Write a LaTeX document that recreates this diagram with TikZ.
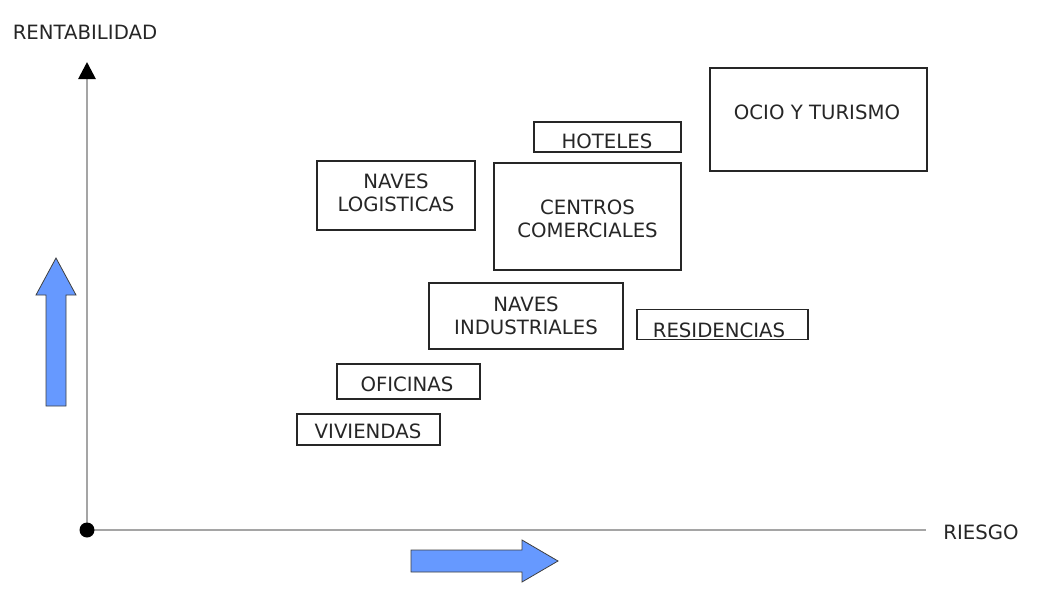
\documentclass[tikz,border=0pt]{standalone}
\usepackage{fontspec}
\setmainfont{DejaVu Sans}
\usetikzlibrary{arrows.meta}
\definecolor{axisgray}{RGB}{165,165,165}
\definecolor{arrowblue}{RGB}{102,153,255}
\definecolor{edgegray}{RGB}{64,64,64}
\begin{document}
\begin{tikzpicture}[x=1pt,y=-1pt,
  box/.style={draw=black!85,line width=1.3pt,inner sep=0pt,outer sep=0pt},
  lbl/.style={font=\fontsize{19.7}{23}\selectfont,text=black!85,inner sep=0pt,align=center,text depth=0pt},
  one/.style={lbl,text height=14.2pt},
  two/.style={lbl,text height=37.2pt},
  axis/.style={draw=axisgray,line width=2.8pt},
  bigarrow/.style={fill=arrowblue,draw=edgegray,line width=0.8pt,line join=miter}]
\useasboundingbox (0,0) rectangle (1037,597);
\fill[white] (0,0) rectangle (1037,597);

% axes
\coordinate (o) at (87,530);
\coordinate (ytop) at (87,62);
\coordinate (xend) at (926,530);
\draw[axis,-{Triangle[width=17pt,length=17pt,color=black]}] (o) -- (ytop);
\draw[axis] (o) -- (xend);
\node[circle,fill=black,inner sep=0pt,minimum size=15pt] (origin) at (o) {};
\node[one] (rent) at (85,32) {RENTABILIDAD};
\node[one] (riesgo) at (981,532) {RIESGO};

% block arrows
\draw[bigarrow] (46,406) -- (46,295) -- (36,295) -- (56,258) -- (76,295) -- (66,295) -- (66,406) -- cycle;
\draw[bigarrow] (411,550) -- (522,550) -- (522,540) -- (558,561) -- (522,582) -- (522,572) -- (411,572) -- cycle;

% boxes
\node[box,minimum width=217pt,minimum height=103pt] (ocio) at (818.5,119.5) {};
\node[one] (ociot) at (817,112) {OCIO Y TURISMO};

\node[box,minimum width=147pt,minimum height=30pt] (hot) at (607.5,137) {};
\node[one] (hott) at (607,141) {HOTELES};

\node[box,minimum width=158pt,minimum height=69pt] (nlog) at (396,195.5) {};
\node[two] (nlogt) at (396,192.5) {NAVES\\LOGISTICAS};

\node[box,minimum width=187pt,minimum height=107pt] (cc) at (587.5,216.5) {};
\node[two] (cct) at (587.5,218.5) {CENTROS\\COMERCIALES};

\node[box,minimum width=194pt,minimum height=66pt] (nind) at (526,316) {};
\node[two] (nindt) at (526,315.5) {NAVES\\INDUSTRIALES};

\node[box,minimum width=171pt,minimum height=30pt] (res) at (722.5,324.5) {};
\node[one] (rest) at (719,330) {RESIDENCIAS};

\node[box,minimum width=143pt,minimum height=35pt] (ofi) at (408.5,381.5) {};
\node[one] (ofit) at (407,384) {OFICINAS};

\node[box,minimum width=143pt,minimum height=31pt] (viv) at (368.5,429.5) {};
\node[one] (vivt) at (368,431) {VIVIENDAS};
\end{tikzpicture}
\end{document}
